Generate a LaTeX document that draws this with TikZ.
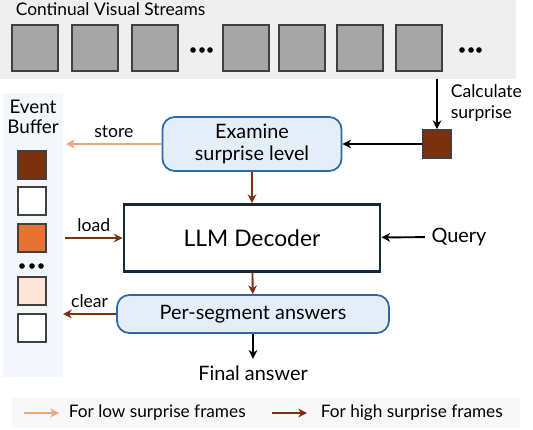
\documentclass[tikz,border=0pt]{standalone}
\usepackage{fontspec}
\setmainfont{Lato}
\usetikzlibrary{arrows.meta}
\definecolor{streambg}{HTML}{EFEFEF}
\definecolor{framegray}{HTML}{A6A6A6}
\definecolor{framedraw}{HTML}{404040}
\definecolor{hibrown}{HTML}{7B3010}
\definecolor{lopeach}{HTML}{F0A57E}
\definecolor{midorange}{HTML}{E87232}
\definecolor{palepeach}{HTML}{FCE4D6}
\definecolor{boxblue}{HTML}{E4EEF8}
\definecolor{boxdraw}{HTML}{2E67A5}
\definecolor{bufferbg}{HTML}{F3F7FC}
\definecolor{legendbg}{HTML}{F8F8F8}
\definecolor{navy}{HTML}{18293A}

\begin{document}
\begin{tikzpicture}[x=0.02cm,y=-0.02cm,>={Stealth[length=5pt,width=5pt]},line width=1.1pt,
  frame node/.style={draw=framedraw,fill=framegray,line width=1pt,minimum size=0.92cm,inner sep=0pt},
  buffer node/.style={draw=framedraw,line width=1pt,minimum size=0.56cm,inner sep=0pt},
  step node/.style={draw=boxdraw,fill=boxblue,rounded corners=7pt,line width=1pt,inner sep=0pt,align=center,font=\fontsize{11.3}{12.5}\selectfont},
  main text/.style={font=\fontsize{11.3}{13}\selectfont},
  label text/.style={font=\fontsize{10}{12}\selectfont},
  dot/.style={fill=black,circle,inner sep=0pt,minimum size=3.2pt},
  hi/.style={->,draw=hibrown},
  lo/.style={->,draw=lopeach}]
  \useasboundingbox (0,0) rectangle (533,429);

  % backgrounds
  \fill[streambg] (0,0) rectangle (516,79);
  \fill[bufferbg] (3,93) rectangle (63,377);
  \fill[legendbg] (12,398) rectangle (520,428);

  % stream of frames
  \node[anchor=west,font=\fontsize{9.9}{11}\selectfont] (title) at (9,9) {Continual Visual Streams};
  \foreach \x/\n in {35/f1,95/f2,155/f3,246/f4,302/f5,360/f6,419/f7}
    \node[frame node] (\n) at (\x,48) {};
  \foreach \x/\n in {193/d1,202/d2,210/d3,462/d4,471/d5,479/d6}
    \node[dot] (\n) at (\x,50) {};

  % surprise
  \node[buffer node,fill=hibrown] (cur) at (437,144) {};
  \coordinate (streamout) at (437,79);
  \node[label text,anchor=west,align=left] (calc) at (444,103) {Calculate\\surprise};

  % main boxes
  \node[step node,minimum width=3.58cm,minimum height=1.08cm] (exam) at (252,144) {Examine\\surprise level};
  \node[draw=navy,line width=1.6pt,minimum width=5.12cm,minimum height=1.34cm,font=\fontsize{13}{15}\selectfont] (llm) at (252,238) {LLM Decoder};
  \node[step node,minimum width=5.44cm,minimum height=0.76cm] (seg) at (253,314) {Per-segment answers};
  \node[main text] (final) at (253,373) {Final answer};
  \node[main text] (query) at (459,237) {Query};

  % event buffer
  \node[font=\fontsize{10.7}{11.5}\selectfont,align=center] (buf) at (33,117) {Event\\Buffer};
  \node[buffer node,fill=hibrown] (b1) at (32,165) {};
  \node[buffer node,fill=white] (b2) at (32,201) {};
  \node[buffer node,fill=midorange] (b3) at (32,238) {};
  \foreach \x/\n in {22/bd1,32/bd2,41/bd3}
    \node[dot] (\n) at (\x,266) {};
  \node[buffer node,fill=palepeach] (b4) at (32,291) {};
  \node[buffer node,fill=white] (b5) at (32,328) {};
  \coordinate (storeend) at (66,144);
  \coordinate (loadstart) at (65,238);
  \coordinate (clearend) at (63,314);

\path[every node/.style={label text}]
  (streamout) edge[->] (cur)
  (cur) edge[->] (exam)
  (exam) edge[lo] node[above] {store} (storeend)
  (exam) edge[hi] (llm)
  (loadstart) edge[hi] node[above] {load} (llm)
  (query) edge[->] (llm)
  (llm) edge[hi] (seg)
  (seg) edge[hi] node[above] {clear} (clearend)
  (seg) edge[->] (final)
;

  % legend
  \coordinate (l1a) at (24,413);
  \coordinate (l1b) at (59,413);
  \coordinate (l2a) at (272,413);
  \coordinate (l2b) at (307,413);
  \draw[lo] (l1a) -- (l1b);
  \draw[hi] (l2a) -- (l2b);
  \node[anchor=west,font=\fontsize{9.8}{11}\selectfont] (lowtext) at (62,413) {For low surprise frames};
  \node[anchor=west,font=\fontsize{9.8}{11}\selectfont] (hightext) at (314,413) {For high surprise frames};
\end{tikzpicture}
\end{document}
